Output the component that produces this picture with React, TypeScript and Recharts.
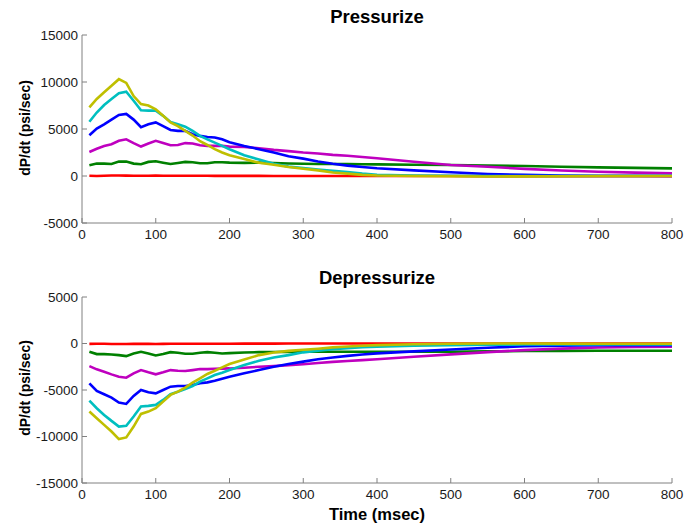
import { LineChart, Line, XAxis, YAxis } from "recharts";

const TIME = [
  10, 20, 30, 40, 50, 60, 70, 80, 90, 100, 110, 120, 130, 140, 150, 160, 170, 180, 190, 200,
  220, 240, 260, 280, 300, 320, 340, 360, 380, 400,
  450, 500, 550, 600, 650, 700, 750, 800,
];

const X_TICKS = [0, 100, 200, 300, 400, 500, 600, 700, 800];
const P_TICKS = [-5000, 0, 5000, 10000, 15000];
const D_TICKS = [-15000, -10000, -5000, 0, 5000];

// Pressurize
const P_RED = [
  20, 0, 30, 50, 60, 40, 30, 20, 30, 40, 30, 20, 30, 30, 20, 20, 20, 10, 10, 10,
  10, 10, 0, 0, 0, 0, 0, 0, 0, 0,
  0, 0, -10, -20, -20, -30, -30, -30,
];
const P_GREEN = [
  1140, 1320, 1320, 1280, 1530, 1530, 1320, 1250, 1500, 1570, 1420, 1280, 1390, 1500, 1460, 1350, 1350, 1460, 1460, 1420,
  1400, 1420, 1380, 1330, 1300, 1280, 1270, 1260, 1250, 1240,
  1200, 1170, 1120, 1060, 990, 920, 860, 810,
];
const P_MAGENTA = [
  2560, 2900, 3200, 3380, 3740, 3900, 3500, 3130, 3450, 3740, 3500, 3270, 3300, 3500, 3450, 3270, 3200, 3200, 3200, 3130,
  3100, 2950, 2780, 2650, 2500, 2400, 2250, 2150, 2020, 1880,
  1520, 1170, 980, 760, 580, 460, 360, 280,
];
const P_BLUE = [
  4340, 5050, 5500, 6000, 6500, 6600, 6000, 5200, 5500, 5700, 5300, 4900, 4800, 4800, 4450, 4270, 4150, 4100, 3900, 3600,
  3200, 2850, 2500, 2100, 1850, 1550, 1300, 1100, 950, 820,
  600, 400, 220, 120, 60, 30, 20, 0,
];
const P_CYAN = [
  5770, 6750, 7550, 8200, 8800, 8970, 8000, 7000, 6950, 6950, 6400, 5750, 5500, 5250, 4800, 4270, 3900, 3550, 3200, 2850,
  2200, 1750, 1300, 1000, 850, 700, 560, 420, 250, 120,
  50, 20, 0, 0, 0, 0, 0, 20,
];
const P_YELLOW = [
  7300, 8200, 8900, 9600, 10300, 9900, 8500, 7650, 7500, 7100, 6400, 5700, 5300, 4800, 4300, 3700, 3300, 2850, 2500, 2200,
  1800, 1400, 1200, 950, 780, 600, 380, 250, 120, 60,
  0, -30, -50, -40, -30, 0, 0, 0,
];

// Depressurize
const D_RED = [
  -40, -30, -30, -50, -60, -50, -40, -30, -40, -50, -40, -30, -30, -30, -30, -20, -20, -20, -20, -20,
  -10, -10, -10, 0, 0, 0, 0, 0, 0, 0,
  0, 0, 0, 0, 0, 0, 0, 0,
];
const D_GREEN = [
  -890, -1140, -1140, -1180, -1250, -1360, -1070, -890, -1070, -1290, -1140, -930, -1000, -1100, -1100, -1000, -930, -1000, -1070, -1040,
  -960, -930, -920, -900, -890, -890, -890, -890, -890, -890,
  -890, -880, -850, -810, -790, -780, -780, -780,
];
const D_MAGENTA = [
  -2430, -2780, -3030, -3320, -3570, -3680, -3210, -2860, -3100, -3320, -3100, -2860, -2930, -2960, -2860, -2750, -2750, -2710, -2700, -2680,
  -2600, -2500, -2430, -2330, -2230, -2100, -1980, -1880, -1790, -1700,
  -1430, -1170, -930, -710, -550, -430, -380, -350,
];
const D_BLUE = [
  -4280, -5100, -5460, -5820, -6350, -6500, -5640, -5000, -5250, -5360, -5000, -4640, -4570, -4570, -4460, -4280, -4180, -4000, -3780, -3570,
  -3210, -2860, -2500, -2200, -1950, -1700, -1500, -1330, -1180, -1060,
  -850, -640, -450, -300, -230, -180, -180, -180,
];
const D_CYAN = [
  -6140, -6960, -7680, -8320, -8930, -8850, -7850, -6780, -6710, -6600, -6070, -5460, -5180, -4890, -4570, -4100, -3750, -3390, -3140, -2860,
  -2320, -1860, -1500, -1250, -950, -780, -620, -500, -400, -340,
  -250, -180, -140, -110, -100, -100, -90, -90,
];
const D_YELLOW = [
  -7320, -8030, -8750, -9460, -10280, -10100, -8930, -7570, -7320, -6960, -6250, -5530, -5180, -4750, -4210, -3750, -3280, -2930, -2570, -2210,
  -1710, -1250, -960, -790, -680, -560, -420, -320, -240, -180,
  -80, -20, 0, 0, -10, -20, -20, -30,
];

const SERIES = [
  { key: "red", color: "#ff0000" },
  { key: "green", color: "#008000" },
  { key: "magenta", color: "#bf00bf" },
  { key: "blue", color: "#0000ff" },
  { key: "cyan", color: "#00bfbf" },
  { key: "yellow", color: "#bfbf00" },
];

const FONT = "'Liberation Sans', Arial, Helvetica, sans-serif";
const AXIS = "#808080";

function buildRows(cols: number[][]) {
  return TIME.map((t, i) => ({
    t,
    red: cols[0][i],
    green: cols[1][i],
    magenta: cols[2][i],
    blue: cols[3][i],
    cyan: cols[4][i],
    yellow: cols[5][i],
  }));
}

const pRows = buildRows([P_RED, P_GREEN, P_MAGENTA, P_BLUE, P_CYAN, P_YELLOW]);
const dRows = buildRows([D_RED, D_GREEN, D_MAGENTA, D_BLUE, D_CYAN, D_YELLOW]);

interface PanelProps {
  rows: ReturnType<typeof buildRows>;
  yTicks: number[];
  height: number;
  top: number;
  bottom: number;
}

function Panel({ rows, yTicks, height, top, bottom }: PanelProps) {
  const tick = { fill: "#1a1a1a", fontSize: 13.5, fontFamily: FONT };
  return (
    <LineChart
      width={699}
      height={height}
      data={rows}
      margin={{ top, right: 27, bottom, left: 32 }}
    >
      <XAxis
        dataKey="t"
        type="number"
        domain={[0, 800]}
        ticks={X_TICKS}
        interval={0}
        height={30}
        tickSize={-5}
        tickMargin={11}
        stroke={AXIS}
        tick={tick}
        allowDataOverflow
      />
      <YAxis
        type="number"
        domain={[yTicks[0], yTicks[yTicks.length - 1]]}
        ticks={yTicks}
        interval={0}
        width={50}
        tickSize={-5}
        tickMargin={9}
        stroke={AXIS}
        tick={tick}
        allowDataOverflow
      />
      {SERIES.map((s) => (
        <Line
          key={s.key}
          type="linear"
          dataKey={s.key}
          stroke={s.color}
          strokeWidth={2.6}
          dot={false}
          activeDot={false}
          isAnimationActive={false}
        />
      ))}
    </LineChart>
  );
}

const titleStyle: React.CSSProperties = {
  position: "absolute",
  left: 82,
  width: 590,
  textAlign: "center",
  fontFamily: FONT,
  fontWeight: "bold",
  fontSize: 18.5,
  color: "#000",
  lineHeight: "20px",
};

const yLabelStyle: React.CSSProperties = {
  position: "absolute",
  left: 25,
  width: 200,
  marginLeft: -100,
  textAlign: "center",
  fontFamily: FONT,
  fontWeight: "bold",
  fontSize: 14,
  color: "#000",
  lineHeight: "20px",
  transform: "translateY(-10px) rotate(-90deg)",
  transformOrigin: "50% 50%",
};

export default function App() {
  return (
    <div
      style={{
        position: "absolute",
        left: 0,
        top: 0,
        width: 699,
        height: 523,
        background: "#fff",
        overflow: "hidden",
      }}
    >
      <div style={{ ...titleStyle, top: 7 }}>Pressurize</div>
      <div style={{ position: "absolute", left: 0, top: 0 }}>
        <Panel rows={pRows} yTicks={P_TICKS} height={260} top={35} bottom={7} />
      </div>
      <div style={{ ...yLabelStyle, top: 128 }}>dP/dt (psi/sec)</div>

      <div style={{ ...titleStyle, top: 268 }}>Depressurize</div>
      <div style={{ position: "absolute", left: 0, top: 260 }}>
        <Panel rows={dRows} yTicks={D_TICKS} height={263} top={37} bottom={10} />
      </div>
      <div style={{ ...yLabelStyle, top: 388 }}>dP/dt (psi/sec)</div>

      <div
        style={{
          ...titleStyle,
          top: 504,
          fontSize: 16.5,
        }}
      >
        Time (msec)
      </div>
    </div>
  );
}
